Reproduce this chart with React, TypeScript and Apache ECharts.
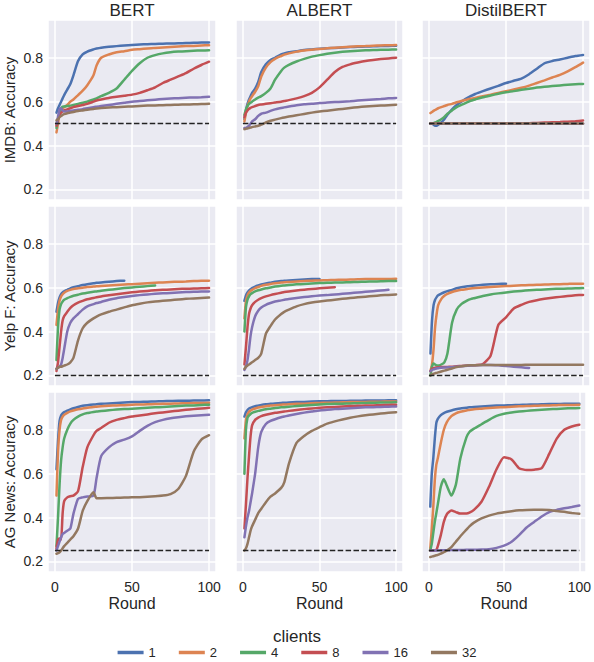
import { useEffect, useRef } from 'react';
import * as echarts from 'echarts';

const FONT = "'Liberation Sans', Arial, sans-serif";
const INK = '#262626';

const ROUNDS = [1, 2, 3, 4, 5, 6, 8, 10, 12, 15, 18, 21, 25, 27, 30, 35, 40, 45, 50, 55, 60, 65, 70, 75, 80, 85, 90, 95, 100];
const CLIENTS = ['1', '2', '4', '8', '16', '32'];
const COLORS = ['#4C72B0', '#DD8452', '#55A868', '#C44E52', '#8172B3', '#937860'];
const MODELS = ['BERT', 'ALBERT', 'DistilBERT'];
const DATASETS = ['IMDB: Accuracy', 'Yelp F: Accuracy', 'AG News: Accuracy'];
const CHANCE = [0.5, 0.2, 0.25];
const CHANCE_X = [0, 100];
const X_TICKS = [0, 50, 100];
const Y_TICKS = [0.2, 0.4, 0.6, 0.8];

// one row per client count (1, 2, 4, 8, 16, 32), values at ROUNDS; shorter rows stop early
const IMDB_BERT = [
  [0.55, 0.57, 0.585, 0.6, 0.615, 0.63, 0.655, 0.68, 0.72, 0.785, 0.815, 0.828, 0.838, 0.842, 0.846, 0.85, 0.853, 0.856, 0.858, 0.86, 0.862, 0.863, 0.864, 0.865, 0.866, 0.867, 0.868, 0.869, 0.87],
  [0.46, 0.5, 0.55, 0.56, 0.57, 0.575, 0.585, 0.6, 0.61, 0.63, 0.65, 0.675, 0.72, 0.765, 0.8, 0.815, 0.825, 0.83, 0.836, 0.839, 0.842, 0.845, 0.847, 0.849, 0.851, 0.853, 0.854, 0.856, 0.857],
  [0.48, 0.52, 0.55, 0.57, 0.577, 0.578, 0.58, 0.582, 0.585, 0.59, 0.595, 0.6, 0.61, 0.615, 0.625, 0.64, 0.66, 0.7, 0.74, 0.775, 0.8, 0.812, 0.82, 0.825, 0.828, 0.83, 0.832, 0.833, 0.834],
  [0.49, 0.52, 0.54, 0.55, 0.555, 0.56, 0.565, 0.57, 0.575, 0.58, 0.585, 0.59, 0.6, 0.605, 0.61, 0.617, 0.622, 0.627, 0.632, 0.64, 0.652, 0.665, 0.685, 0.7, 0.715, 0.73, 0.75, 0.767, 0.782],
  [0.5, 0.53, 0.565, 0.57, 0.56, 0.555, 0.555, 0.557, 0.56, 0.563, 0.566, 0.57, 0.575, 0.577, 0.58, 0.585, 0.59, 0.595, 0.6, 0.603, 0.606, 0.609, 0.612, 0.614, 0.616, 0.618, 0.619, 0.62, 0.622],
  [0.515, 0.52, 0.53, 0.535, 0.54, 0.543, 0.547, 0.55, 0.553, 0.557, 0.56, 0.563, 0.567, 0.569, 0.571, 0.573, 0.575, 0.577, 0.578, 0.58, 0.582, 0.583, 0.584, 0.585, 0.586, 0.587, 0.588, 0.589, 0.59],
];
const IMDB_ALBERT = [
  [0.52, 0.56, 0.59, 0.61, 0.625, 0.64, 0.66, 0.69, 0.735, 0.77, 0.79, 0.8, 0.815, 0.82, 0.825, 0.83, 0.835, 0.838, 0.841, 0.843, 0.845, 0.847, 0.849, 0.85, 0.851, 0.852, 0.853, 0.854, 0.855],
  [0.51, 0.55, 0.58, 0.6, 0.615, 0.625, 0.645, 0.67, 0.715, 0.755, 0.78, 0.795, 0.808, 0.814, 0.82, 0.828, 0.833, 0.837, 0.84, 0.843, 0.846, 0.848, 0.85, 0.852, 0.853, 0.855, 0.856, 0.857, 0.858],
  [0.54, 0.565, 0.58, 0.59, 0.595, 0.6, 0.61, 0.618, 0.625, 0.64, 0.66, 0.7, 0.74, 0.755, 0.768, 0.783, 0.795, 0.805, 0.812, 0.818, 0.823, 0.827, 0.83, 0.832, 0.834, 0.835, 0.836, 0.837, 0.838],
  [0.53, 0.55, 0.56, 0.567, 0.572, 0.575, 0.58, 0.585, 0.587, 0.59, 0.593, 0.596, 0.6, 0.603, 0.607, 0.615, 0.625, 0.64, 0.665, 0.7, 0.735, 0.758, 0.77, 0.778, 0.785, 0.79, 0.794, 0.797, 0.8],
  [0.48, 0.48, 0.485, 0.49, 0.5, 0.51, 0.52, 0.535, 0.545, 0.55, 0.558, 0.565, 0.571, 0.574, 0.578, 0.584, 0.588, 0.59, 0.594, 0.596, 0.598, 0.6, 0.602, 0.605, 0.608, 0.61, 0.612, 0.615, 0.617],
  [0.475, 0.477, 0.478, 0.48, 0.482, 0.484, 0.487, 0.49, 0.495, 0.505, 0.513, 0.518, 0.525, 0.528, 0.532, 0.538, 0.544, 0.55, 0.555, 0.559, 0.563, 0.567, 0.571, 0.575, 0.578, 0.58, 0.582, 0.584, 0.586],
];
const IMDB_DISTIL = [
  [0.5, 0.5, 0.495, 0.49, 0.49, 0.495, 0.505, 0.52, 0.54, 0.565, 0.585, 0.6, 0.617, 0.625, 0.635, 0.648, 0.66, 0.672, 0.685, 0.695, 0.705, 0.725, 0.75, 0.775, 0.785, 0.792, 0.8, 0.808, 0.813],
  [0.548, 0.553, 0.558, 0.562, 0.566, 0.57, 0.575, 0.58, 0.585, 0.59, 0.597, 0.603, 0.61, 0.613, 0.617, 0.625, 0.632, 0.64, 0.648, 0.655, 0.663, 0.673, 0.685, 0.697, 0.71, 0.722, 0.738, 0.757, 0.778],
  [0.5, 0.5, 0.502, 0.505, 0.508, 0.512, 0.52, 0.53, 0.545, 0.56, 0.575, 0.585, 0.598, 0.604, 0.61, 0.62, 0.628, 0.636, 0.643, 0.648, 0.654, 0.659, 0.664, 0.668, 0.671, 0.674, 0.677, 0.679, 0.681],
  [0.5, 0.5, 0.5, 0.5, 0.5, 0.5, 0.5, 0.5, 0.5, 0.5, 0.5, 0.5, 0.5, 0.5, 0.5, 0.5, 0.5, 0.5, 0.5, 0.5, 0.5, 0.502, 0.503, 0.505, 0.506, 0.507, 0.509, 0.511, 0.514],
  [0.499, 0.499, 0.499, 0.499, 0.499, 0.499, 0.499, 0.499, 0.499, 0.499, 0.499, 0.499, 0.499, 0.499, 0.499, 0.499, 0.499, 0.499, 0.499, 0.499, 0.499, 0.499, 0.499, 0.499, 0.499, 0.499, 0.499, 0.499, 0.499],
  [0.5, 0.5, 0.5, 0.5, 0.5, 0.5, 0.5, 0.5, 0.5, 0.5, 0.5, 0.5, 0.5, 0.5, 0.5, 0.5, 0.5, 0.5, 0.5, 0.5, 0.5, 0.5, 0.5, 0.5, 0.5, 0.5, 0.5, 0.5, 0.5],
];

const YELP_BERT = [
  [0.49, 0.53, 0.555, 0.57, 0.578, 0.583, 0.59, 0.597, 0.602, 0.607, 0.612, 0.616, 0.62, 0.622, 0.624, 0.627, 0.63, 0.632],
  [0.43, 0.5, 0.54, 0.56, 0.57, 0.577, 0.585, 0.59, 0.594, 0.597, 0.6, 0.603, 0.605, 0.606, 0.608, 0.61, 0.612, 0.614, 0.616, 0.618, 0.62, 0.622, 0.624, 0.626, 0.627, 0.628, 0.63, 0.631, 0.632],
  [0.27, 0.42, 0.5, 0.525, 0.537, 0.545, 0.552, 0.558, 0.563, 0.568, 0.573, 0.577, 0.581, 0.583, 0.586, 0.59, 0.594, 0.598, 0.601, 0.604, 0.607, 0.61],
  [0.22, 0.26, 0.33, 0.4, 0.45, 0.47, 0.49, 0.508, 0.52, 0.532, 0.54, 0.547, 0.553, 0.556, 0.56, 0.565, 0.57, 0.575, 0.579, 0.582, 0.585, 0.588, 0.59, 0.592, 0.594, 0.595, 0.596, 0.597, 0.598],
  [0.23, 0.235, 0.24, 0.25, 0.28, 0.32, 0.4, 0.44, 0.46, 0.48, 0.5, 0.515, 0.525, 0.53, 0.535, 0.545, 0.552, 0.557, 0.562, 0.566, 0.569, 0.572, 0.574, 0.576, 0.578, 0.58, 0.581, 0.582, 0.583],
  [0.23, 0.235, 0.24, 0.24, 0.242, 0.245, 0.25, 0.26, 0.28, 0.36, 0.415, 0.44, 0.46, 0.468, 0.478, 0.49, 0.5, 0.51, 0.52, 0.527, 0.533, 0.537, 0.54, 0.543, 0.546, 0.549, 0.551, 0.553, 0.555],
];
const YELP_ALBERT = [
  [0.54, 0.565, 0.578, 0.587, 0.593, 0.598, 0.605, 0.61, 0.614, 0.619, 0.623, 0.627, 0.63, 0.631, 0.633, 0.635, 0.637, 0.639, 0.64],
  [0.46, 0.54, 0.565, 0.578, 0.585, 0.59, 0.598, 0.603, 0.608, 0.613, 0.617, 0.62, 0.623, 0.625, 0.626, 0.628, 0.63, 0.632, 0.633, 0.634, 0.635, 0.636, 0.637, 0.638, 0.639, 0.639, 0.64, 0.64, 0.641],
  [0.4, 0.51, 0.545, 0.56, 0.57, 0.575, 0.583, 0.588, 0.592, 0.597, 0.601, 0.605, 0.609, 0.61, 0.612, 0.615, 0.617, 0.619, 0.621, 0.622, 0.623, 0.624, 0.625, 0.626, 0.627, 0.628, 0.629, 0.63, 0.63],
  [0.25, 0.33, 0.42, 0.48, 0.505, 0.52, 0.535, 0.545, 0.552, 0.56, 0.566, 0.571, 0.577, 0.58, 0.583, 0.587, 0.591, 0.594, 0.597, 0.6, 0.602],
  [0.225, 0.24, 0.27, 0.32, 0.38, 0.42, 0.47, 0.495, 0.51, 0.522, 0.53, 0.537, 0.542, 0.545, 0.548, 0.553, 0.557, 0.561, 0.564, 0.566, 0.569, 0.572, 0.575, 0.578, 0.581, 0.584, 0.587, 0.59],
  [0.23, 0.24, 0.245, 0.25, 0.255, 0.26, 0.27, 0.28, 0.3, 0.39, 0.425, 0.455, 0.48, 0.49, 0.5, 0.515, 0.525, 0.532, 0.537, 0.541, 0.545, 0.549, 0.553, 0.556, 0.559, 0.562, 0.565, 0.567, 0.569],
];
const YELP_DISTIL = [
  [0.3, 0.45, 0.52, 0.545, 0.557, 0.565, 0.573, 0.579, 0.584, 0.59, 0.597, 0.602, 0.606, 0.608, 0.61, 0.613, 0.615, 0.617, 0.618],
  [0.22, 0.25, 0.32, 0.42, 0.48, 0.52, 0.548, 0.563, 0.572, 0.58, 0.586, 0.59, 0.594, 0.596, 0.598, 0.601, 0.603, 0.605, 0.607, 0.609, 0.611, 0.612, 0.613, 0.614, 0.615, 0.616, 0.617, 0.618, 0.618],
  [0.2, 0.24, 0.255, 0.25, 0.245, 0.245, 0.25, 0.26, 0.3, 0.44, 0.5, 0.525, 0.542, 0.548, 0.553, 0.562, 0.569, 0.574, 0.578, 0.582, 0.585, 0.588, 0.59, 0.592, 0.594, 0.595, 0.596, 0.597, 0.598],
  [0.22, 0.23, 0.233, 0.235, 0.236, 0.237, 0.238, 0.238, 0.239, 0.24, 0.242, 0.243, 0.245, 0.246, 0.247, 0.252, 0.29, 0.43, 0.465, 0.505, 0.522, 0.535, 0.543, 0.549, 0.554, 0.558, 0.562, 0.565, 0.567],
  [0.22, 0.225, 0.228, 0.23, 0.232, 0.233, 0.235, 0.236, 0.237, 0.238, 0.24, 0.242, 0.244, 0.245, 0.246, 0.248, 0.248, 0.246, 0.243, 0.24, 0.237, 0.234],
  [0.2, 0.205, 0.208, 0.21, 0.212, 0.214, 0.218, 0.222, 0.226, 0.232, 0.238, 0.242, 0.245, 0.246, 0.247, 0.248, 0.248, 0.248, 0.248, 0.248, 0.248, 0.249, 0.249, 0.249, 0.249, 0.249, 0.249, 0.249, 0.249],
];

const AG_BERT = [
  [0.62, 0.75, 0.84, 0.865, 0.875, 0.88, 0.887, 0.893, 0.898, 0.904, 0.909, 0.912, 0.915, 0.916, 0.918, 0.92, 0.922, 0.924, 0.926, 0.927, 0.928, 0.929, 0.93, 0.931, 0.932, 0.932, 0.933, 0.933, 0.934],
  [0.5, 0.7, 0.8, 0.845, 0.86, 0.868, 0.877, 0.884, 0.888, 0.893, 0.897, 0.9, 0.904, 0.905, 0.907, 0.909, 0.911, 0.912, 0.914, 0.915, 0.916, 0.917, 0.918, 0.919, 0.92, 0.921, 0.922, 0.922, 0.923],
  [0.27, 0.4, 0.55, 0.66, 0.72, 0.76, 0.8, 0.828, 0.845, 0.86, 0.87, 0.876, 0.881, 0.883, 0.885, 0.889, 0.892, 0.894, 0.896, 0.898, 0.9, 0.902, 0.904, 0.906, 0.908, 0.91, 0.911, 0.913, 0.914],
  [0.26, 0.3, 0.305, 0.3, 0.42, 0.475, 0.492, 0.497, 0.5, 0.52, 0.63, 0.72, 0.775, 0.795, 0.808, 0.832, 0.845, 0.853, 0.86, 0.865, 0.87, 0.875, 0.879, 0.883, 0.887, 0.891, 0.894, 0.897, 0.9],
  [0.25, 0.27, 0.29, 0.31, 0.325, 0.33, 0.34, 0.35, 0.417, 0.485, 0.492, 0.496, 0.5, 0.58, 0.68, 0.72, 0.744, 0.755, 0.77, 0.795, 0.818, 0.835, 0.845, 0.852, 0.857, 0.861, 0.864, 0.866, 0.868],
  [0.235, 0.238, 0.242, 0.25, 0.26, 0.27, 0.285, 0.3, 0.315, 0.35, 0.43, 0.475, 0.515, 0.488, 0.488, 0.489, 0.49, 0.491, 0.492, 0.493, 0.495, 0.497, 0.5, 0.507, 0.53, 0.59, 0.7, 0.755, 0.775],
];
const AG_ALBERT = [
  [0.86, 0.88, 0.89, 0.897, 0.9, 0.903, 0.907, 0.91, 0.913, 0.916, 0.918, 0.92, 0.922, 0.923, 0.924, 0.926, 0.927, 0.929, 0.93, 0.93, 0.931, 0.931, 0.932, 0.932, 0.933, 0.933, 0.933, 0.934, 0.934],
  [0.76, 0.845, 0.87, 0.882, 0.888, 0.892, 0.897, 0.901, 0.904, 0.907, 0.91, 0.912, 0.914, 0.915, 0.916, 0.918, 0.919, 0.921, 0.922, 0.923, 0.924, 0.925, 0.926, 0.927, 0.927, 0.928, 0.928, 0.929, 0.929],
  [0.6, 0.8, 0.855, 0.865, 0.872, 0.877, 0.882, 0.886, 0.889, 0.893, 0.896, 0.899, 0.902, 0.903, 0.905, 0.908, 0.911, 0.913, 0.915, 0.917, 0.918, 0.919, 0.92, 0.921, 0.922, 0.923, 0.924, 0.924, 0.925],
  [0.35, 0.46, 0.58, 0.68, 0.77, 0.82, 0.845, 0.855, 0.862, 0.868, 0.873, 0.877, 0.881, 0.883, 0.886, 0.89, 0.894, 0.897, 0.9, 0.902, 0.904, 0.906, 0.908, 0.909, 0.91, 0.911, 0.912, 0.913, 0.914],
  [0.31, 0.36, 0.4, 0.43, 0.47, 0.51, 0.6, 0.72, 0.79, 0.826, 0.84, 0.848, 0.857, 0.86, 0.865, 0.872, 0.878, 0.883, 0.888, 0.891, 0.894, 0.896, 0.898, 0.9, 0.902, 0.903, 0.904, 0.905, 0.906],
  [0.25, 0.26, 0.28, 0.31, 0.34, 0.36, 0.39, 0.42, 0.44, 0.47, 0.495, 0.51, 0.535, 0.56, 0.645, 0.74, 0.772, 0.795, 0.812, 0.828, 0.838, 0.847, 0.855, 0.861, 0.866, 0.87, 0.874, 0.877, 0.88],
];
const AG_DISTIL = [
  [0.45, 0.6, 0.67, 0.76, 0.83, 0.85, 0.867, 0.876, 0.882, 0.888, 0.893, 0.897, 0.9, 0.902, 0.904, 0.906, 0.908, 0.91, 0.911, 0.912, 0.913, 0.914, 0.915, 0.916, 0.917, 0.917, 0.918, 0.918, 0.919],
  [0.26, 0.35, 0.45, 0.57, 0.64, 0.67, 0.74, 0.8, 0.835, 0.862, 0.875, 0.882, 0.888, 0.89, 0.893, 0.896, 0.899, 0.901, 0.903, 0.905, 0.907, 0.908, 0.909, 0.91, 0.911, 0.912, 0.913, 0.913, 0.914],
  [0.25, 0.28, 0.33, 0.38, 0.42, 0.46, 0.54, 0.575, 0.545, 0.5, 0.55, 0.67, 0.765, 0.79, 0.805, 0.825, 0.845, 0.863, 0.873, 0.879, 0.883, 0.886, 0.889, 0.891, 0.893, 0.895, 0.897, 0.898, 0.899],
  [0.25, 0.25, 0.25, 0.25, 0.252, 0.27, 0.32, 0.38, 0.415, 0.432, 0.425, 0.418, 0.418, 0.422, 0.435, 0.472, 0.54, 0.62, 0.675, 0.665, 0.625, 0.617, 0.618, 0.625, 0.69, 0.76, 0.8, 0.815, 0.823],
  [0.25, 0.25, 0.25, 0.25, 0.25, 0.25, 0.251, 0.251, 0.251, 0.252, 0.252, 0.252, 0.253, 0.253, 0.253, 0.254, 0.256, 0.262, 0.272, 0.29, 0.32, 0.355, 0.38, 0.405, 0.425, 0.435, 0.442, 0.448, 0.455],
  [0.22, 0.222, 0.224, 0.226, 0.228, 0.23, 0.236, 0.242, 0.25, 0.265, 0.29, 0.315, 0.345, 0.36, 0.377, 0.396, 0.409, 0.418, 0.424, 0.429, 0.433, 0.435, 0.436, 0.436, 0.434, 0.43, 0.426, 0.421, 0.417],
];

const PANELS = [
  [IMDB_BERT, IMDB_ALBERT, IMDB_DISTIL],
  [YELP_BERT, YELP_ALBERT, YELP_DISTIL],
  [AG_BERT, AG_ALBERT, AG_DISTIL],
];

const COL_LEFT = [48, 236, 422];
const COL_WIDTH = [168, 167, 168];
const ROW_TOP = [20, 206, 392];
const ROW_HEIGHT = 180;

const isTick = (ticks: number[], v: number) => ticks.some((t) => Math.abs(t - v) < 1e-6);

function buildOption() {
  const grid: any[] = [];
  const xAxis: any[] = [];
  const yAxis: any[] = [];
  const series: any[] = [];

  PANELS.forEach((row, r) => {
    row.forEach((curves, c) => {
      const i = r * 3 + c;
      grid.push({
        left: COL_LEFT[c],
        top: ROW_TOP[r],
        width: COL_WIDTH[c],
        height: ROW_HEIGHT,
        show: true,
        backgroundColor: '#EAEAF2',
        borderWidth: 0,
      });
      xAxis.push({
        gridIndex: i,
        type: 'value',
        min: -4.5,
        max: 104.5,
        minInterval: 50,
        maxInterval: 50,
        axisLine: { show: false },
        axisTick: { show: false },
        splitLine: { show: true, lineStyle: { color: '#ffffff', width: 1.5 } },
        axisLabel: {
          show: r === 2,
          margin: 8,
          fontSize: 14,
          color: INK,
          fontFamily: FONT,
          formatter: (v: number) => (isTick(X_TICKS, v) ? String(Math.round(v)) : ''),
        },
        name: r === 2 ? 'Round' : '',
        nameLocation: 'middle',
        nameGap: 23,
        nameTextStyle: { fontSize: 16, color: INK, fontFamily: FONT },
      });
      yAxis.push({
        gridIndex: i,
        type: 'value',
        min: 0.152,
        max: 0.972,
        minInterval: 0.2,
        maxInterval: 0.2,
        axisLine: { show: false },
        axisTick: { show: false },
        splitLine: { show: true, lineStyle: { color: '#ffffff', width: 1.5 } },
        axisLabel: {
          show: c === 0,
          margin: 5,
          fontSize: 14,
          color: INK,
          fontFamily: FONT,
          formatter: (v: number) => (isTick(Y_TICKS, v) ? v.toFixed(1) : ''),
        },
        name: c === 0 ? DATASETS[r] : '',
        nameLocation: 'middle',
        nameGap: 31,
        nameTextStyle: { fontSize: 15, color: INK, fontFamily: FONT },
      });

      curves.forEach((vals, k) => {
        series.push({
          name: CLIENTS[k],
          type: 'line',
          xAxisIndex: i,
          yAxisIndex: i,
          data: vals.map((v, j) => [ROUNDS[j], v]),
          symbol: 'none',
          showSymbol: false,
          smooth: 0.2,
          silent: true,
          lineStyle: { width: 2.5, color: COLORS[k], cap: 'round', join: 'round' },
          itemStyle: { color: COLORS[k] },
        });
      });

      series.push({
        name: 'chance',
        type: 'line',
        xAxisIndex: i,
        yAxisIndex: i,
        data: CHANCE_X.map((x) => [x, CHANCE[r]]),
        symbol: 'none',
        silent: true,
        lineStyle: { width: 1.5, color: '#222222', type: [5.5, 2.4] },
        z: 5,
      });
    });
  });

  const graphic: any[] = MODELS.map((m, c) => ({
    type: 'text',
    x: COL_LEFT[c] + COL_WIDTH[c] / 2,
    y: 10,
    style: { text: m, fill: INK, font: `17px ${FONT}`, align: 'center', verticalAlign: 'middle' },
  }));
  graphic.push({
    type: 'text',
    x: 297,
    y: 636,
    style: { text: 'clients', fill: INK, font: `17px ${FONT}`, align: 'center', verticalAlign: 'middle' },
  });

  return {
    animation: false,
    backgroundColor: '#ffffff',
    grid,
    xAxis,
    yAxis,
    series,
    graphic,
    legend: {
      data: CLIENTS,
      left: 'center',
      top: 646,
      padding: 0,
      icon: 'rect',
      itemWidth: 26,
      itemHeight: 3.5,
      itemGap: 23,
      selectedMode: false,
      textStyle: { fontSize: 13, color: INK, fontFamily: FONT },
    },
  };
}

export default function App() {
  const ref = useRef<HTMLDivElement>(null);

  useEffect(() => {
    if (!ref.current) return;
    const chart = echarts.init(ref.current, null, { renderer: 'svg' });
    chart.setOption(buildOption());
    return () => chart.dispose();
  }, []);

  return <div ref={ref} style={{ position: 'absolute', left: 0, top: 0, width: 594, height: 662 }} />;
}
